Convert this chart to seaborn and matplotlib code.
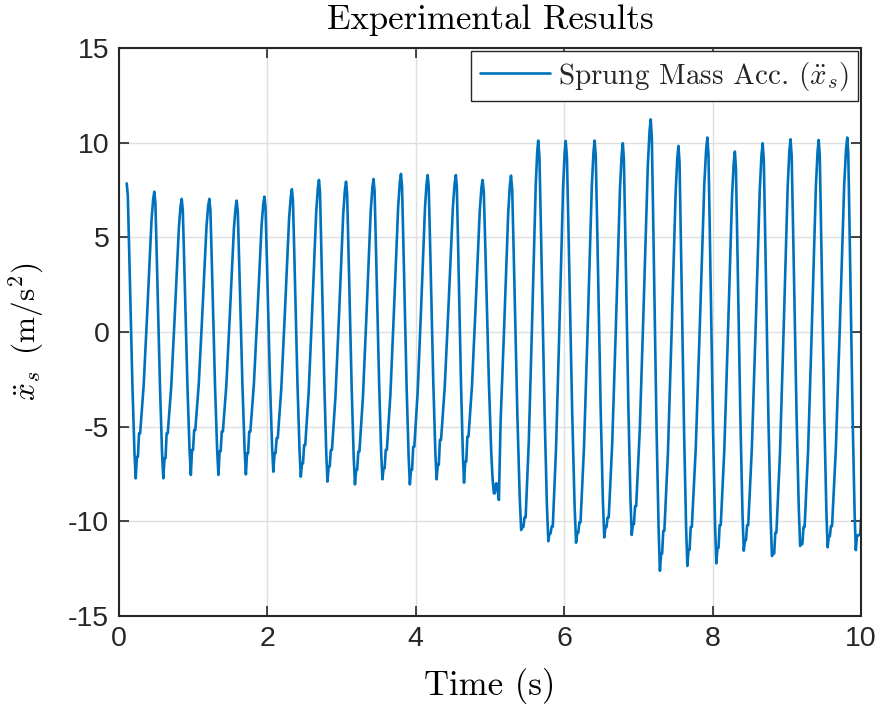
import numpy as np
import pandas as pd
import matplotlib
matplotlib.use("Agg")
import matplotlib.pyplot as plt
import seaborn as sns

# ---- data (per oscillation cycle) ----
peak_t = [0.104, 0.476, 0.845, 1.217, 1.586, 1.96, 2.33, 2.695, 3.06, 3.43, 3.80, 4.16, 4.54,
          4.90, 5.283, 5.65, 6.02, 6.41, 6.79, 7.166, 7.54, 7.93, 8.30, 8.675, 9.05, 9.43, 9.815]
peak_v = [7.85, 7.41, 7.03, 7.03, 6.94, 7.15, 7.54, 8.03, 7.94, 8.08, 8.35, 8.29, 8.29,
          8.03, 8.26, 10.11, 10.09, 10.11, 9.97, 11.23, 9.83, 10.27, 9.53, 9.97, 10.18, 10.14, 10.27]
trough_t = [0.225, 0.597, 0.968, 1.34, 1.71, 2.08, 2.45, 2.81, 3.18, 3.55, 3.92, 4.28, 4.65,
            5.036, 5.42, 5.786, 6.16, 6.54, 6.91, 7.29, 7.66, 8.05, 8.42, 8.80, 9.18, 9.55, 9.93]
trough_v = [-7.73, -7.73, -7.55, -7.55, -7.52, -7.38, -7.64, -7.90, -8.05, -7.78, -8.05, -7.78, -7.96,
            -7.82, -10.46, -11.05, -11.13, -10.85, -10.72, -12.61, -12.36, -12.22, -11.55, -11.83, -11.30, -11.37, -11.52]
shoulder1_v = [-6.60, -6.67, -6.23, -6.30, -6.40, -6.40, -6.94, -7.10, -7.28, -7.20, -7.28, -7.02, -6.85,
               -8.52, -10.30, -10.64, -10.60, -10.30, -10.15, -11.70, -11.50, -11.40, -11.00, -11.70, -11.20, -10.80, -10.76]
shoulder2_v = [-5.35, -5.35, -5.18, -5.26, -5.26, -5.60, -5.97, -6.23, -6.32, -6.23, -6.06, -5.70, -5.53,
               -8.00, -9.80, -10.28, -10.05, -9.80, -9.20, -10.50, -10.30, -10.20, -10.20, -10.60, -10.30, -10.25, -10.70]
extra_t = [5.12]
extra_v = [-8.87]
end_t = 10.0
end_v = -9.90

# ---- build the polyline through the read key points ----
fall_f = [0.12, 0.26, 0.63, 0.86]
fall_g = [0.04, 0.21, 0.68, 0.91]
rise_f = [0.25, 0.5, 0.8, 0.92]
rise_g = [0.20, 0.5, 0.88, 0.97]
sh_dt = [0.016, 0.030, 0.045, 0.060]

ts, vs = [], []
n = len(peak_t)
for i in range(n):
    tp, P, tt, T = peak_t[i], peak_v[i], trough_t[i], trough_v[i]
    ts.append(tp); vs.append(P)
    for f, g in zip(fall_f, fall_g):
        ts.append(tp + f * (tt - tp)); vs.append(P - g * (P - T))
    ts.append(tt); vs.append(T)
    svals = [shoulder1_v[i], shoulder1_v[i], shoulder2_v[i], shoulder2_v[i]]
    for dt, sv in zip(sh_dt, svals):
        ts.append(tt + dt); vs.append(sv)
    if i + 1 < n:
        t0, v0 = tt + sh_dt[-1], shoulder2_v[i]
        t1, v1 = peak_t[i + 1], peak_v[i + 1]
        for f, g in zip(rise_f, rise_g):
            ts.append(t0 + f * (t1 - t0)); vs.append(v0 + g * (v1 - v0))
ts += extra_t; vs += extra_v
ts.append(end_t); vs.append(end_v)
df = pd.DataFrame({"t": ts, "v": vs}).sort_values("t")
df = df[df["t"] <= 10.0]

# ---- styling ----
sns.set_theme(style="white")
plt.rcParams["font.family"] = ["Liberation Sans", "DejaVu Sans"]
plt.rcParams["mathtext.fontset"] = "cm"
plt.rcParams["axes.unicode_minus"] = False

fig = plt.figure(figsize=(8.81, 7.13), dpi=100)
ax = fig.add_axes([119 / 881, 1 - 616 / 713, (861 - 119) / 881, (616 - 48) / 713])

sns.lineplot(data=df, x="t", y="v", ax=ax, color="#0072BD", linewidth=1.9,
             sort=False, estimator=None, label=r"Sprung Mass Acc. ($\ddot{x}_s$)")

ax.set_xlim(0, 10)
ax.set_ylim(-15, 15)
ax.set_xticks([0, 2, 4, 6, 8, 10])
ax.set_yticks([-15, -10, -5, 0, 5, 10, 15])
ax.grid(True, color="#DFDFDF", linewidth=1.0)
ax.set_axisbelow(True)
for s in ax.spines.values():
    s.set_color("#262626")
    s.set_linewidth(1.5)
ax.tick_params(direction="in", length=7, width=1.2, color="#262626",
               labelsize=20.5, labelcolor="#262626", top=True, right=True,
               bottom=True, left=True, pad=7)

cm = "cmr10"
ax.set_title("Experimental Results", fontfamily=cm, fontsize=25, pad=14, color="black")
ax.set_xlabel("Time (s)", fontfamily=cm, fontsize=25, labelpad=12, color="black")
ax.set_ylabel(r"$\ddot{x}_s\;\;(\mathrm{m/s^2})$", fontsize=22.5, labelpad=16, color="black")

leg = ax.legend(loc="upper right", fancybox=False, framealpha=1, edgecolor="#262626",
                prop={"family": cm, "size": 21}, borderaxespad=0.1, handlelength=2.4,
                handletextpad=0.3, borderpad=0.3)
leg.get_frame().set_linewidth(1.0)

fig.savefig("out.png", dpi=100)
